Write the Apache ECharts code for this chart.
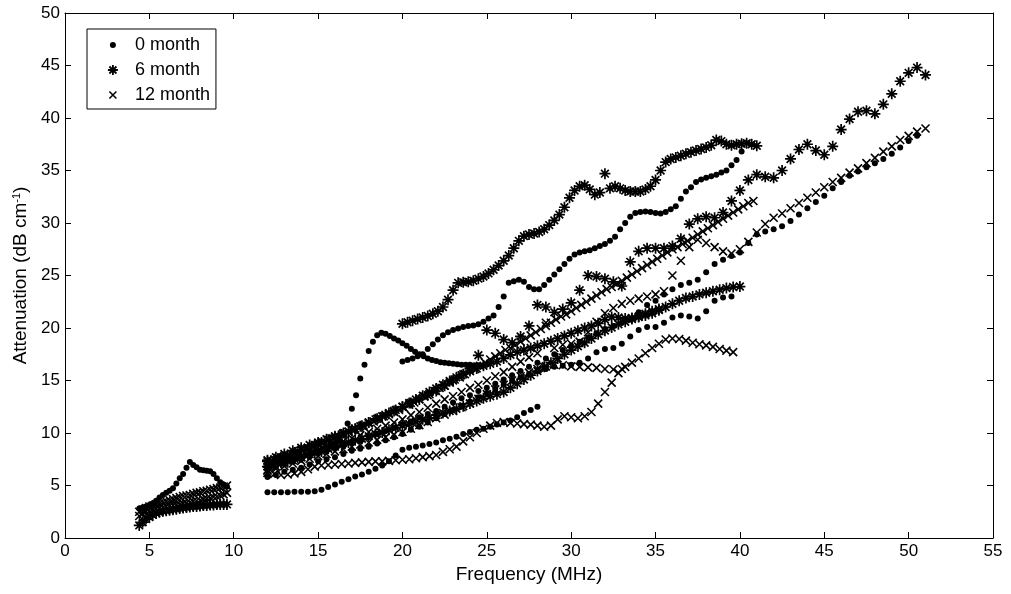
<!DOCTYPE html>
<html><head><meta charset="utf-8">
<script src="https://cdn.jsdelivr.net/npm/echarts@6/dist/echarts.min.js"></script>
<style>html,body{margin:0;padding:0;background:#fff}#c{width:1011px;height:594px}</style>
</head><body><div id="c"></div>
<script>
// ---- Data (attenuation in dB/cm read from the figure); each curve sampled on a uniform frequency grid ----
// 0 month (dots)
const dotLowF = [4.4, 0.2];
const dotLow = [2.8,2.9,3.0,3.15,3.3,3.55,3.85,4.1,4.3,4.5,4.75,5.2,5.7,6.1,6.7,7.25,6.95,6.75,6.5,6.45,6.4,6.35,6.1,5.7,5.3,5.1,4.9];
const dotBumpF = [12.0, 0.25];
const dotBump = [6.7,6.85,7.0,7.1,7.25,7.4,7.5,7.65,7.8,7.9,8.05,8.2,8.35,8.5,8.65,8.85,9.05,9.3,9.8,10.9,12.3,13.6,15.2,16.5,17.8,18.7,19.3,19.55,19.45,19.25,19.0,18.8,18.55,18.3,18.0,17.75,17.5,17.3,17.1,16.95,16.85,16.75,16.7,16.65,16.6,16.55,16.5,16.5,16.5,16.45,16.45];
const dotUpperF = [20.0, 0.3];
const dotUpper = [16.8,16.95,17.1,17.3,17.5,18.0,18.45,18.9,19.3,19.6,19.8,19.95,20.1,20.2,20.25,20.35,20.6,20.9,21.2,22.0,23.0,24.3,24.45,24.6,24.4,23.9,23.7,23.7,24.1,24.6,25.1,25.6,26.1,26.6,27.0,27.2,27.3,27.4,27.6,27.8,28.0,28.3,28.7,29.4,30.0,30.6,30.95,31.05,31.1,31.05,30.95,30.9,31.05,31.3,31.6,32.3,33.0,33.4,33.9,34.15,34.3,34.45,34.6,34.8,35.0,35.5,36.0,36.8];
const dotBottomF = [12.0, 0.4];
const dotBottom = [4.35,4.35,4.35,4.35,4.4,4.4,4.4,4.45,4.6,4.85,5.1,5.35,5.6,5.85,6.05,6.3,6.6,6.9,7.3,7.85,8.4,8.6,8.7,8.8,8.95,9.1,9.3,9.45,9.65,9.9,10.1,10.3,10.4,10.6,10.8,11.0,11.2,11.5,11.9,12.2,12.5];
const dotLongF = [12.0, 0.5];
const dotLong = [6.6,6.8,7.05,7.3,7.5,7.8,8.05,8.3,8.5,8.8,9.05,9.3,9.6,9.9,10.2,10.5,10.8,11.1,11.5,11.8,12.1,12.5,12.9,13.3,13.6,14.0,14.3,14.7,15.1,15.5,15.9,16.3,16.7,17.1,17.5,17.9,18.3,18.7,19.1,19.5,19.9,20.2,20.5,20.8,21.5,22.2,22.6,23.2,23.7,24.1,24.3,24.6,25.3,26.1,26.5,26.85,27.2,28.1,28.9,29.2,29.4,29.7,30.2,30.8,31.4,32.0,32.6,33.3,33.9,34.5,34.9,35.3,35.7,36.1,36.6,37.2,37.8,38.3];
const dotMidF = [12.0, 0.5];
const dotMid = [5.8,6.0,6.3,6.5,6.7,7.0,7.3,7.5,7.7,8.0,8.3,8.5,8.7,9.0,9.3,9.6,9.9,10.3,10.6,11.0,11.4,11.8,12.2,12.6,13.0,13.4,13.8,14.2,14.6,15.0,15.3,15.6,15.9,16.1,16.3,16.4,16.5,16.7,17.1,17.7,18.0,18.1,18.5,19.2,19.8,20.1,20.1,20.5,21.0,21.2,21.1,20.9,21.6,22.6,22.9,23.0];
// 6 month (stars)
const starLowF = [4.4, 0.2];
const starLow = [1.2,1.5,1.8,2.0,2.2,2.35,2.45,2.55,2.6,2.65,2.7,2.75,2.8,2.85,2.9,2.95,3.0,3.0,3.05,3.1,3.1,3.15,3.15,3.2,3.2,3.2,3.2];
const starTopF = [20.0, 0.3];
const starTop = [20.4,20.55,20.7,20.85,21.0,21.15,21.35,21.6,22.0,22.7,23.6,24.3,24.35,24.4,24.5,24.7,24.9,25.2,25.55,25.95,26.4,26.9,27.6,28.3,28.75,28.9,29.0,29.15,29.4,29.8,30.25,30.8,31.5,32.4,33.1,33.5,33.6,33.2,32.7,32.9,34.7,33.3,33.5,33.3,33.1,33.0,33.0,33.0,33.2,33.5,34.1,35.0,35.8,36.1,36.25,36.4,36.6,36.75,36.9,37.05,37.2,37.4,37.9,37.8,37.5,37.4,37.5,37.55,37.6,37.5,37.35];
const starLongF = [12.0, 0.5];
const starLong = [7.4,7.7,8.0,8.3,8.6,8.85,9.1,9.4,9.7,10.0,10.3,10.65,11.0,11.35,11.7,12.1,12.5,12.85,13.2,13.6,14.0,14.5,15.0,15.5,16.1,17.4,19.8,19.5,18.9,18.6,19.2,20.2,22.2,22.0,21.5,21.8,22.4,23.6,25.0,24.9,24.7,24.4,24.0,26.3,27.3,27.6,27.6,27.6,27.8,28.5,29.9,30.4,30.6,30.5,31.0,32.1,33.1,34.1,34.6,34.4,34.3,35.0,36.1,37.0,37.5,36.9,36.5,37.3,38.9,39.9,40.6,40.7,40.4,41.3,42.3,43.5,44.3,44.8,44.1];
const starBandF = [12.0, 0.4];
const starBand = [7.3,7.5,7.7,7.9,8.15,8.4,8.6,8.85,9.1,9.35,9.6,9.85,10.15,10.4,10.7,11.0,11.3,11.6,11.9,12.2,12.5,12.85,13.2,13.55,13.9,14.25,14.6,14.95,15.3,15.6,15.9,16.15,16.4,16.6,16.8,17.1,17.45,17.7,17.9,18.1,18.3,18.5,18.75,19.0,19.25,19.5,19.75,20.0,20.2,20.45,20.8,21.05,21.0,20.9,20.95,21.05,21.2,21.4,21.7,22.0,22.3,22.6,22.85,23.0,23.2,23.35,23.5,23.65,23.8,23.9,23.95];
const starBand2F = [12.0, 0.4];
const starBand2 = [6.8,7.0,7.2,7.35,7.55,7.7,7.9,8.1,8.25,8.5,8.7,8.85,9.1,9.3,9.45,9.7,9.9,10.05,10.3,10.5,10.7,10.85,11.1,11.3,11.45,11.7,11.9,12.1,12.3,12.55,12.8,13.05,13.3,13.5,13.7,13.9,14.3,14.7,15.1,15.5,15.9,16.3,16.7,17.1,17.5,17.9,18.25,18.6,19.0,19.4,19.75,20.05,20.35,20.6,20.85,21.1,21.35,21.6,21.8];
// 12 month (crosses)
const crossLowF = [4.4, 0.2];
const crossLow = [2.5,2.7,2.85,3.0,3.1,3.2,3.3,3.4,3.5,3.6,3.7,3.8,3.9,4.0,4.05,4.1,4.2,4.3,4.35,4.45,4.5,4.6,4.65,4.75,4.8,4.9,5.0];
const crossLow2F = [4.4, 0.2];
const crossLow2 = [2.1,2.3,2.5,2.6,2.7,2.8,2.85,2.9,3.0,3.05,3.1,3.15,3.2,3.3,3.35,3.4,3.5,3.55,3.6,3.7,3.75,3.8,3.9,3.95,4.05,4.15,4.3];
const crossLineF = [12.0, 0.3];
const crossLine = [7.1,7.3,7.4,7.6,7.8,8.0,8.2,8.3,8.5,8.7,8.9,9.1,9.3,9.5,9.7,9.9,10.1,10.3,10.5,10.7,10.9,11.1,11.4,11.6,11.8,12.0,12.2,12.4,12.7,12.9,13.2,13.5,13.7,14.0,14.3,14.5,14.8,15.1,15.3,15.6,15.9,16.1,16.4,16.7,17.0,17.3,17.6,17.9,18.1,18.4,18.7,19.0,19.3,19.6,19.9,20.2,20.5,20.8,21.1,21.3,21.6,21.9,22.2,22.5,22.8,23.1,23.4,23.7,23.9,24.2,24.5,24.8,25.1,25.4,25.7,26.0,26.3,26.6,26.9,27.2,27.5,27.7,28.0,28.3,28.6,28.9,29.2,29.5,29.8,30.1,30.4,30.7,31.0,31.3,31.6,31.9,32.1];
const crossLongF = [12.0, 0.5];
const crossLong = [6.5,6.8,7.1,7.4,7.7,8.0,8.3,8.6,8.9,9.2,9.5,9.8,10.1,10.4,10.7,11.0,11.3,11.7,12.0,12.4,12.8,13.2,13.5,13.9,14.3,14.6,15.0,15.4,15.8,16.3,16.8,17.2,17.6,20.5,18.1,18.4,18.5,18.7,19.6,20.6,21.4,21.9,22.3,22.6,22.8,23.0,23.2,23.5,25.0,26.4,27.7,28.4,28.1,27.7,27.3,27.1,27.5,28.2,29.1,29.9,30.5,30.9,31.4,31.9,32.4,32.9,33.4,33.9,34.3,34.8,35.2,35.7,36.2,36.8,37.3,37.9,38.3,38.7,39.0];
const crossBottomF = [12.0, 0.4];
const crossBottom = [6.2,6.1,6.0,6.05,6.15,6.3,6.55,6.8,6.9,6.95,7.0,7.05,7.1,7.15,7.2,7.25,7.3,7.3,7.35,7.4,7.45,7.5,7.6,7.7,7.8,7.9,8.2,8.45,8.7,9.2,9.6,10.0,10.4,10.7,10.95,11.05,10.95,10.9,10.85,10.8,10.7,10.6,10.7,11.3,11.6,11.5,11.4,11.6,12.0,12.8,13.9,14.8,15.7,16.3,16.7,17.1,17.6,18.1,18.5,18.9,19.0,18.95,18.8,18.6,18.45,18.35,18.2,18.0,17.85,17.7];
const crossMidF = [12.0, 0.5];
const crossMid = [6.4,6.6,6.85,7.1,7.35,7.55,7.8,8.0,8.25,8.45,8.7,8.9,9.1,9.35,9.6,9.85,10.1,10.4,10.75,11.05,11.4,11.75,12.1,12.45,12.8,13.25,13.7,14.15,14.6,15.0,15.4,15.75,16.1,16.35,16.5,16.45,16.35,16.3,16.25,16.2,16.1,16.05,16.1];

const groups = ['0 month', '6 month', '12 month'];
const curves = [
  [0, dotLowF, dotLow], [0, dotBumpF, dotBump], [0, dotUpperF, dotUpper], [0, dotBottomF, dotBottom], [0, dotLongF, dotLong], [0, dotMidF, dotMid],
  [1, starLowF, starLow], [1, starTopF, starTop], [1, starLongF, starLong], [1, starBandF, starBand], [1, starBand2F, starBand2],
  [2, crossLowF, crossLow], [2, crossLow2F, crossLow2], [2, crossLineF, crossLine], [2, crossLongF, crossLong], [2, crossBottomF, crossBottom], [2, crossMidF, crossMid]
];

// ---- Styles ----
const FONT = 'Liberation Sans, Arial, sans-serif';
const STAR = 'path://M5,0L5,10M0,5L10,5M1.5,1.5L8.5,8.5M8.5,1.5L1.5,8.5';
const CROSS = 'path://M0,0L10,10M10,0L0,10';
const styles = [
  {symbol: 'circle', symbolSize: 6, itemStyle: {color: '#000', borderWidth: 0, opacity: 1}},
  {symbol: STAR, symbolSize: 11, itemStyle: {color: 'rgba(0,0,0,0)', borderColor: '#000', borderWidth: 1.7, opacity: 1}},
  {symbol: CROSS, symbolSize: 8, itemStyle: {color: 'rgba(0,0,0,0)', borderColor: '#000', borderWidth: 1.6, opacity: 1}}
];

const series = curves.map(([g, f, ys]) => Object.assign({
  type: 'scatter', name: groups[g], xAxisIndex: 0, yAxisIndex: 0,
  data: ys.map((v, i) => [+(f[0] + i * f[1]).toFixed(2), v]),
  emphasis: {disabled: true}, silent: true
}, styles[g]));

const axisCommon = {
  axisLine: {show: true, onZero: false, lineStyle: {color: '#000', width: 1}},
  axisTick: {show: true, inside: true, length: 6, lineStyle: {color: '#000', width: 1}},
  splitLine: {show: false}
};

const chart = echarts.init(document.getElementById('c'), null, {renderer: 'canvas'});
chart.setOption({
  animation: false,
  backgroundColor: '#fff',
  grid: {left: 65, right: 18, top: 13, bottom: 56, containLabel: false},
  legend: {
    left: 87, top: 29, orient: 'vertical', backgroundColor: '#fff', borderColor: '#000', borderWidth: 1, borderRadius: 0,
    padding: [7, 6, 5, 16], itemGap: 7, itemWidth: 26, itemHeight: 14, selectedMode: false,
    textStyle: {fontFamily: FONT, fontSize: 18, color: '#000'},
    data: [
      {name: '0 month', icon: 'path://M0,0M26,14M6,7a3,3 0 1,0 6,0a3,3 0 1,0 -6,0', itemStyle: {color: '#000', borderWidth: 0, opacity: 1}},
      {name: '6 month', icon: 'path://M0,0M26,14M9,2L9,12M4,7L14,7M5.5,3.5L12.5,10.5M12.5,3.5L5.5,10.5', itemStyle: {color: 'rgba(0,0,0,0)', borderColor: '#000', borderWidth: 1.8, opacity: 1}},
      {name: '12 month', icon: 'path://M0,0M26,14M5.5,3.5L12.5,10.5M12.5,3.5L5.5,10.5', itemStyle: {color: 'rgba(0,0,0,0)', borderColor: '#000', borderWidth: 1.6, opacity: 1}}
    ]
  },
  xAxis: [
    Object.assign({type: 'value', min: 0, max: 55, interval: 5, position: 'bottom',
      axisLabel: {color: '#000', fontFamily: FONT, fontSize: 17, margin: 5},
      name: 'Frequency (MHz)', nameLocation: 'middle', nameGap: 27,
      nameTextStyle: {color: '#000', fontFamily: FONT, fontSize: 19}}, axisCommon),
    Object.assign({type: 'value', min: 0, max: 55, interval: 5, position: 'top', axisLabel: {show: false}}, axisCommon)
  ],
  yAxis: [
    Object.assign({type: 'value', min: 0, max: 50, interval: 5, position: 'left',
      axisLabel: {color: '#000', fontFamily: FONT, fontSize: 17, margin: 5},
      name: 'Attenuation (dB cm{sup|-1})', nameLocation: 'middle', nameGap: 33,
      nameTextStyle: {color: '#000', fontFamily: FONT, fontSize: 19,
        rich: {sup: {fontFamily: FONT, fontSize: 11, verticalAlign: 'top', color: '#000'}}}}, axisCommon),
    Object.assign({type: 'value', min: 0, max: 50, interval: 5, position: 'right', axisLabel: {show: false}}, axisCommon)
  ],
  series: series
});
</script>
</body></html>
